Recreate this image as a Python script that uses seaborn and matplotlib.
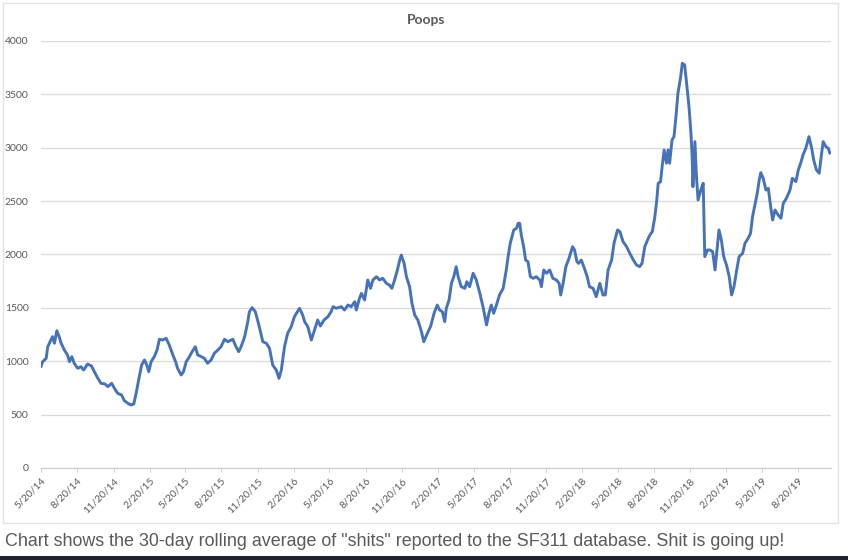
import matplotlib
matplotlib.use("Agg")
import matplotlib.pyplot as plt
import pandas as pd
import seaborn as sns
from matplotlib.patches import Rectangle

sns.set_theme(style="white")
plt.rcParams["font.family"] = ["Lato", "DejaVu Sans"]

# days after 5/20/14
day_offset = [
    0, 4, 13, 17, 25, 29, 34, 40, 46, 51, 59, 67, 72, 78, 84, 93, 101, 108, 118, 128,
    135, 144, 152, 162, 169, 179, 186, 194, 204, 211, 220, 228, 235, 241, 249, 255, 262,
    268, 273, 279, 287, 294, 300, 308, 317, 325,
    334, 341, 346, 355, 361, 368, 376, 383, 391, 397, 406, 414, 422, 431, 439, 448, 456,
    465, 473, 486, 494, 501, 507, 516, 524, 528, 535, 543, 552, 562, 571, 579, 587, 596,
    603, 609, 617, 625, 634, 642, 655, 663,
    668, 676, 685, 693, 701, 708, 717, 727, 735, 740, 748, 761, 769, 778, 786, 795, 799,
    807, 812, 820, 828, 835, 841, 850, 858, 866, 875, 883, 889, 896, 903, 909, 913, 920,
    926, 934, 940, 947, 955, 964, 970, 979, 987, 996, 1004,
    1010, 1017, 1023, 1027, 1034, 1040, 1046, 1052, 1057, 1065, 1074, 1079, 1086, 1095,
    1103, 1112, 1120, 1129, 1135, 1141, 1147, 1154, 1162, 1171, 1179, 1183, 1189, 1198,
    1205, 1209, 1213, 1217, 1223, 1228, 1234, 1240, 1247, 1255, 1264, 1268, 1274, 1281,
    1289, 1297, 1306, 1313, 1317, 1323, 1330, 1338, 1347, 1352,
    1358, 1362, 1369, 1377, 1384, 1390, 1399, 1407, 1416, 1424, 1430, 1437, 1446, 1452,
    1461, 1467, 1475, 1484, 1492, 1501, 1509, 1517, 1523, 1530, 1537, 1543, 1549, 1555,
    1560, 1564, 1570, 1574, 1579, 1585, 1589, 1593, 1599, 1604, 1609, 1614, 1621, 1625,
    1631, 1636, 1642, 1647, 1650, 1652, 1657, 1661, 1665, 1672, 1678, 1682,
    1689, 1695, 1702, 1708, 1713, 1718, 1724, 1730, 1737, 1744, 1750, 1756, 1763, 1769,
    1778, 1784, 1792, 1798, 1803, 1809, 1815, 1820, 1824, 1830, 1837, 1843, 1849, 1854,
    1860, 1868, 1875, 1881, 1889, 1898, 1904, 1913, 1919, 1925, 1931, 1938, 1946, 1953,
    1958, 1965, 1972, 1976, 1982, 1989, 1995, 1999,
]

# 30-day rolling average of reports
poops = [
    949, 996, 1027, 1136, 1199, 1230, 1168, 1286, 1230, 1168, 1105, 1059, 996, 1043, 981,
    934, 949, 918, 974, 955, 902, 840, 793, 787, 762, 793, 746, 700, 684, 631, 606, 590,
    600, 700, 855, 965, 1012, 965, 902, 996, 1043, 1105, 1206, 1199, 1215, 1152,
    1059, 996, 934, 871, 902, 996, 1043, 1090, 1136, 1059, 1043, 1027, 981, 1012, 1074,
    1105, 1136, 1206, 1183, 1206, 1136, 1090, 1136, 1230, 1371, 1464, 1502, 1464, 1340,
    1183, 1168, 1121, 965, 918, 840, 918, 1136, 1262, 1324, 1417, 1496, 1433,
    1371, 1324, 1199, 1293, 1386, 1330, 1386, 1417, 1464, 1511, 1496, 1511, 1480, 1527,
    1511, 1558, 1480, 1590, 1636, 1574, 1761, 1683, 1761, 1792, 1761, 1777, 1730, 1714,
    1683, 1761, 1855, 1948, 1995, 1917, 1792, 1698, 1543, 1433, 1386, 1277, 1183, 1262,
    1324, 1449, 1527,
    1480, 1464, 1371, 1496, 1574, 1730, 1792, 1886, 1792, 1698, 1683, 1745, 1698, 1824,
    1761, 1636, 1511, 1340, 1449, 1527, 1449, 1527, 1621, 1683, 1855, 1964, 2105, 2230,
    2245, 2292, 2292, 2183, 2073, 1948, 1933, 1792, 1777, 1792, 1761, 1698, 1855, 1824,
    1855, 1777, 1761, 1730, 1621, 1730, 1886, 1964, 2073, 2042,
    1933, 1917, 1948, 1870, 1792, 1698, 1683, 1605, 1730, 1621, 1621, 1855, 1948, 2105,
    2230, 2214, 2120, 2073, 2011, 1948, 1902, 1886, 1917, 2073, 2136, 2183, 2214, 2339,
    2495, 2667, 2683, 2823, 2979, 2855, 2979, 2855, 3073, 3104, 3291, 3510, 3666, 3791,
    3775, 3604, 3385, 3135, 2916, 2635, 3057, 2729, 2511, 2604, 2667, 1980,
    2042, 2042, 2027, 1855, 2042, 2230, 2136, 1980, 1902, 1792, 1621, 1698, 1855, 1980,
    2011, 2105, 2152, 2198, 2354, 2464, 2573, 2698, 2766, 2714, 2604, 2620, 2448, 2323,
    2417, 2370, 2339, 2480, 2527, 2604, 2714, 2683, 2792, 2855, 2932, 2995, 3104, 2995,
    2885, 2792, 2761, 2885, 3057, 3010, 2995, 2948,
]

start = pd.Timestamp("2014-05-20")
df = pd.DataFrame({"date": start + pd.to_timedelta(day_offset, unit="D"), "poops": poops})

grey = "#595959"
fig = plt.figure(figsize=(8.48, 5.6), dpi=100)
ax = fig.add_axes([0.0484, 0.1643, 0.9316, 0.7625])

sns.lineplot(data=df, x="date", y="poops", ax=ax, color="#4672b8", linewidth=2.1)

ax.set_ylim(0, 4000)
ax.set_yticks(range(0, 4001, 500))
ax.set_xlim(start, start + pd.Timedelta(days=2002))
ticks = pd.date_range(start, "2019-08-20", freq=pd.DateOffset(months=3))
ax.set_xticks(ticks)
ax.set_xticklabels([f"{d.month}/{d.day}/{d.year % 100}" for d in ticks],
                   rotation=45, ha="right", rotation_mode="anchor")
ax.tick_params(axis="x", length=3, width=0.8, color="#d0d0d0", labelsize=7.5,
               labelcolor=grey, pad=3, bottom=True)
ax.tick_params(axis="y", length=0, labelsize=7.5, labelcolor=grey, pad=9)

ax.grid(axis="y", color="#d9d9d9", linewidth=0.9)
ax.grid(axis="x", visible=False)
for side in ["top", "right", "left"]:
    ax.spines[side].set_visible(False)
ax.spines["bottom"].set_color("#d0d0d0")
ax.spines["bottom"].set_linewidth(0.9)
ax.set_xlabel("")
ax.set_ylabel("")

fig.text(0.502, 0.965, "Poops", ha="center", va="center", fontsize=10,
         fontweight="bold", color=grey)

# chart box border and caption under it
fig.patches.append(Rectangle((3 / 848, 1 - 523 / 560), 835 / 848, 520 / 560,
                             transform=fig.transFigure, fill=False,
                             edgecolor="#e3e3e3", linewidth=1))
fig.text(5 / 848, 1 - 541 / 560,
         'Chart shows the 30-day rolling average of "shits" reported to the SF311 database. Shit is going up!',
         ha="left", va="center", fontsize=12.9, color="#5a5a5a",
         family=["Liberation Sans", "DejaVu Sans"])
fig.patches.append(Rectangle((0, 0), 1, 4 / 560, transform=fig.transFigure,
                             facecolor="#1f2433", edgecolor="none"))

fig.savefig("out.png", dpi=100)
